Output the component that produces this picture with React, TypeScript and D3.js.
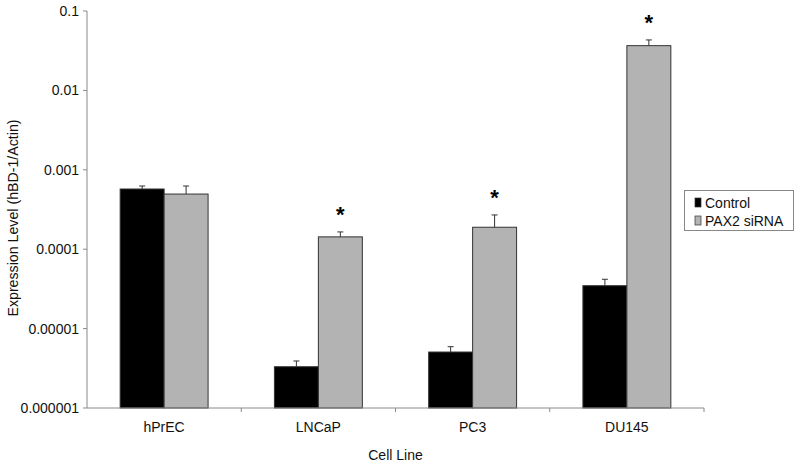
import React from "react";
import * as d3 from "d3";

const categories = ["hPrEC", "LNCaP", "PC3", "DU145"];
const seriesNames = ["Control", "PAX2 siRNA"];
const controlMean = [0.000573, 0.00000331, 0.00000507, 0.0000347];
const controlErrTop = [0.000625, 0.00000391, 0.00000592, 0.0000418];
const sirnaMean = [0.000495, 0.000143, 0.000189, 0.0366];
const sirnaErrTop = [0.000625, 0.000165, 0.00027, 0.0432];
const significant = [false, true, true, true];
const yTicks = [0.000001, 0.00001, 0.0001, 0.001, 0.01, 0.1];
const yTickLabels = ["0.000001", "0.00001", "0.0001", "0.001", "0.01", "0.1"];

const W = 800;
const H = 467;
const left = 87;
const right = 704;
const top = 11;
const bottom = 408;
const font = "'Liberation Sans', Arial, sans-serif";

export default function App() {
  const x = d3.scaleBand<string>().domain(categories).range([left, right]).paddingInner(0.43).paddingOuter(0.215);
  const bandOuter = d3.scaleBand<string>().domain(categories).range([left, right]);
  const sub = d3.scaleBand<string>().domain(seriesNames).range([0, x.bandwidth()]);
  const y = d3.scaleLog().domain([1e-6, 0.1]).range([bottom, top]);
  const colors = ["#000000", "#b3b3b3"];
  const series = [
    { name: seriesNames[0], mean: controlMean, err: controlErrTop },
    { name: seriesNames[1], mean: sirnaMean, err: sirnaErrTop },
  ];
  const axisColor = "#8a8a8a";
  return (
    <svg width={W} height={H} style={{ position: "absolute", left: 0, top: 0, background: "#fff" }}>
      <rect x={0} y={0} width={W} height={H} fill="#fff" />
      {categories.map((c, i) => (
        <g key={c}>
          {series.map((s, j) => {
            const bx = (x(c) as number) + (sub(s.name) as number);
            const by = y(s.mean[i]);
            const bw = sub.bandwidth();
            const cx = bx + bw / 2;
            const ey = y(s.err[i]);
            return (
              <g key={s.name}>
                <rect x={bx} y={by} width={bw} height={bottom - by} fill={colors[j]} stroke="#333" strokeWidth={1} />
                <line x1={cx} x2={cx} y1={by} y2={ey} stroke="#333" strokeWidth={1} />
                <line x1={cx - 3} x2={cx + 3} y1={ey} y2={ey} stroke="#333" strokeWidth={1} />
                {j === 1 && significant[i] ? (
                  <text x={cx} y={ey - 10} textAnchor="middle" fontFamily={font} fontSize={22} fontWeight="bold" fill="#000">
                    *
                  </text>
                ) : null}
              </g>
            );
          })}
        </g>
      ))}
      <line x1={left} x2={left} y1={top} y2={bottom} stroke={axisColor} strokeWidth={1} />
      {yTicks.map((t, i) => (
        <g key={t}>
          <line x1={left - 4} x2={left} y1={y(t)} y2={y(t)} stroke={axisColor} />
          <text x={left - 8} y={y(t) + 5} textAnchor="end" fontFamily={font} fontSize={14} fill="#111">
            {yTickLabels[i]}
          </text>
        </g>
      ))}
      <line x1={left} x2={right} y1={bottom} y2={bottom} stroke={axisColor} strokeWidth={1} />
      {categories.map((c) => (
        <line key={"t" + c} x1={(bandOuter(c) as number) + bandOuter.bandwidth()} x2={(bandOuter(c) as number) + bandOuter.bandwidth()} y1={bottom} y2={bottom + 4} stroke={axisColor} />
      ))}
      {categories.map((c) => (
        <text key={"l" + c} x={(bandOuter(c) as number) + bandOuter.bandwidth() / 2} y={432} textAnchor="middle" fontFamily={font} fontSize={14} fill="#111">
          {c}
        </text>
      ))}
      <text x={(left + right) / 2} y={460} textAnchor="middle" fontFamily={font} fontSize={14} fill="#111">
        Cell Line
      </text>
      <text transform={`translate(18, 218) rotate(-90)`} textAnchor="middle" fontFamily={font} fontSize={14.2} fill="#111">
        Expression Level (hBD-1/Actin)
      </text>
      <rect x={684.5} y={190.5} width={109} height={40} fill="#fff" stroke="#888" strokeWidth={1} />
      {seriesNames.map((n, j) => (
        <g key={n}>
          <rect x={695} y={198 + j * 18} width={6} height={9} fill={colors[j]} stroke="#333" strokeWidth={0.7} />
          <text x={705} y={208 + j * 18} fontFamily={font} fontSize={14} fill="#111">
            {n}
          </text>
        </g>
      ))}
    </svg>
  );
}
